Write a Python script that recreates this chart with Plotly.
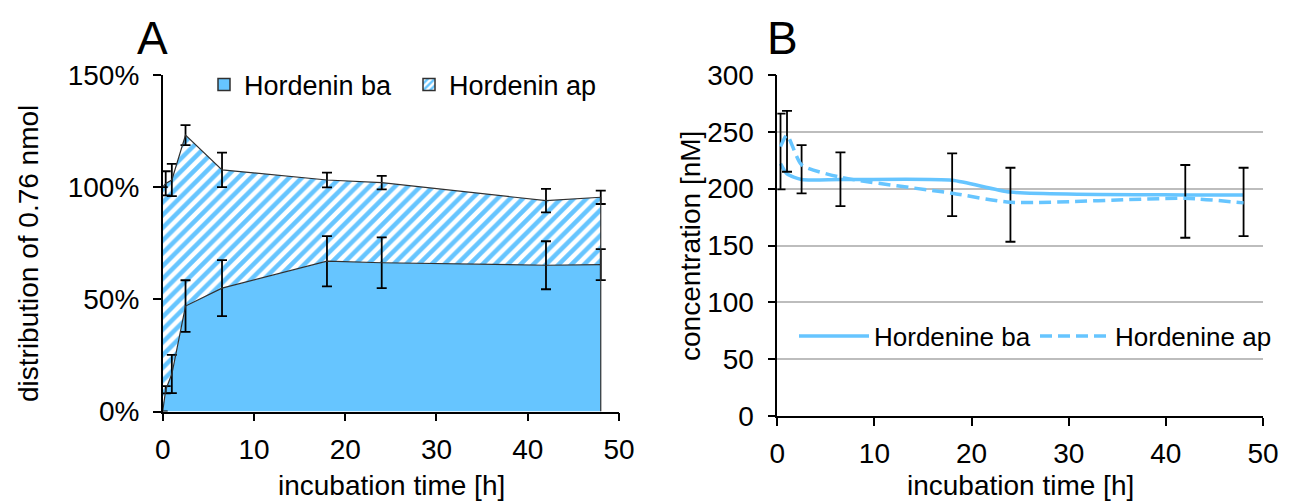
import plotly.graph_objects as go

# ---------------- data ----------------
# Panel A: distribution (% of 0.76 nmol), stacked areas
time_a = [0, 0.33, 1, 2.5, 6.5, 18, 24, 42, 48]
ba_pct = [0, 9.7, 16.7, 47, 55, 67, 66.3, 65.2, 65.5]
ba_pct_err = [None, 1.6, 8.5, 11.5, 12.5, 11.2, 11.3, 10.7, 6.9]
ap_pct = [100, 92, 86.5, 76.2, 52.7, 36.2, 35.7, 28.8, 30]
total_pct_err = [None, 5.4, 7.2, 4.5, 7.7, 3.3, 3.0, 5.2, 3.0]

# Panel B: concentration [nM]
time_b = [0.33, 1, 2.5, 6.5, 18, 24, 42, 48]
ba_nm = [222, 213, 208, 208, 207.5, 197, 194.5, 194.5]
ap_nm = [237, 247, 221, 210, 196, 188, 191.5, 187.5]
ap_err_plus = [29, 21.5, 17.3, 21.9, 35, 30.4, 29.3, 30.9]
ap_err_minus = [37.6, 32.1, 25.1, 25.3, 20.1, 34.7, 34.7, 29.2]

ya_ticks = [0, 50, 100, 150]
ya_labels = ["0%", "50%", "100%", "150%"]
yb_ticks = [0, 50, 100, 150, 200, 250, 300]
x_ticks = [0, 10, 20, 30, 40, 50]

# ---------------- style ----------------
W, H = 1308, 502
BLUE = "#66C5FF"
EDGE = "#303030"
FONT = "Liberation Sans, Arial, sans-serif"
total_pct = [b + a for b, a in zip(ba_pct, ap_pct)]


def px_x(p):
    return p / W


def px_y(p):
    return 1 - p / H


fig = go.Figure()

# Panel A: basolateral area
fig.add_trace(go.Scatter(
    x=time_a, y=ba_pct, mode="lines", fill="tozeroy", fillcolor=BLUE,
    line=dict(color=EDGE, width=1.2), showlegend=False,
    error_y=dict(type="data", array=ba_pct_err, color="black", thickness=1.8, width=5),
    xaxis="x", yaxis="y"))
# Panel A: apical stacked on top (hatched)
fig.add_trace(go.Scatter(
    x=time_a, y=total_pct, mode="lines", fill="tonexty",
    fillpattern=dict(shape="/", fgcolor=BLUE, bgcolor="white", size=9, solidity=0.5, fillmode="replace"),
    line=dict(color=EDGE, width=1.2), showlegend=False,
    error_y=dict(type="data", array=total_pct_err, color="black", thickness=1.8, width=5),
    xaxis="x", yaxis="y"))
# right edge of area
fig.add_trace(go.Scatter(
    x=[time_a[-1], time_a[-1]], y=[0, total_pct[-1]], mode="lines",
    line=dict(color=EDGE, width=1.2), showlegend=False, hoverinfo="skip",
    xaxis="x", yaxis="y"))

# legend proxies panel A
fig.add_trace(go.Bar(
    x=[None], y=[None], name="Hordenin ba", legend="legend",
    marker=dict(color=BLUE, line=dict(color=EDGE, width=1.5)),
    xaxis="x", yaxis="y"))
fig.add_trace(go.Bar(
    x=[None], y=[None], name="Hordenin ap", legend="legend",
    marker=dict(color="white", line=dict(color=EDGE, width=1.5),
                pattern=dict(shape="/", fgcolor=BLUE, bgcolor="white", size=6, solidity=0.5, fillmode="replace")),
    xaxis="x", yaxis="y"))

# Panel B
fig.add_trace(go.Scatter(
    x=time_b, y=ba_nm, mode="lines", name="Hordenine ba", legend="legend2",
    line=dict(color=BLUE, width=3.5, shape="spline", smoothing=0.6),
    xaxis="x2", yaxis="y2"))
fig.add_trace(go.Scatter(
    x=time_b, y=ap_nm, mode="lines", name="Hordenine ap", legend="legend2",
    line=dict(color=BLUE, width=3.5, dash="12px,6px", shape="spline", smoothing=0.6),
    error_y=dict(type="data", symmetric=False, array=ap_err_plus, arrayminus=ap_err_minus,
                 color="black", thickness=1.8, width=5),
    xaxis="x2", yaxis="y2"))

axis_common = dict(
    showline=True, linecolor="black", linewidth=1.5, ticks="outside", ticklen=8,
    tickcolor="black", tickwidth=1.5, zeroline=False, automargin=False,
    tickfont=dict(family=FONT, size=28, color="black"),
)


def label(text, x, y, size=28, angle=0):
    return dict(text=text, x=px_x(x), y=px_y(y), xref="paper", yref="paper",
                xanchor="center", yanchor="middle", showarrow=False, textangle=angle,
                font=dict(family=FONT, size=size, color="black"))


fig.update_layout(
    width=W, height=H, margin=dict(l=0, r=0, t=0, b=0),
    paper_bgcolor="white", plot_bgcolor="white",
    font=dict(family=FONT, color="black"),
    xaxis=dict(domain=[px_x(162.7), px_x(619)], range=[0, 50], tickvals=x_ticks,
               showgrid=False, anchor="y", ticklabelstandoff=4, **axis_common),
    yaxis=dict(domain=[px_y(411.5), px_y(75)], range=[0, 150], tickvals=ya_ticks,
               ticktext=ya_labels, showgrid=False, anchor="x", ticklabelstandoff=8,
               **axis_common),
    xaxis2=dict(domain=[px_x(777.3), px_x(1263)], range=[0, 50], tickvals=x_ticks,
                showgrid=False, anchor="y2", ticklabelstandoff=4, **axis_common),
    yaxis2=dict(domain=[px_y(416), px_y(75)], range=[0, 300], tickvals=yb_ticks,
                showgrid=True, gridcolor="#BDBDBD", gridwidth=1.5, anchor="x2",
                ticklabelstandoff=8, **axis_common),
    legend=dict(orientation="h", x=px_x(204), y=px_y(85), xanchor="left", yanchor="middle",
                font=dict(family=FONT, size=27, color="black"), bgcolor="rgba(0,0,0,0)",
                entrywidth=160, traceorder="normal"),
    legend2=dict(orientation="h", x=px_x(794), y=px_y(336), xanchor="left", yanchor="middle",
                 font=dict(family=FONT, size=26, color="black"), bgcolor="rgba(0,0,0,0)",
                 itemwidth=70, entrywidth=156, traceorder="normal"),
    annotations=[
        label("A", 152, 38, size=46),
        label("B", 782, 38, size=46),
        label("incubation time [h]", 391, 485),
        label("incubation time [h]", 1020, 485),
        label("distribution of 0.76 nmol", 28, 254, angle=-90),
        label("concentration [nM]", 690, 246, angle=-90),
    ],
    showlegend=True,
)

fig.write_html("out.html", config={"displayModeBar": False},
               post_script="document.body.style.margin='0';")
